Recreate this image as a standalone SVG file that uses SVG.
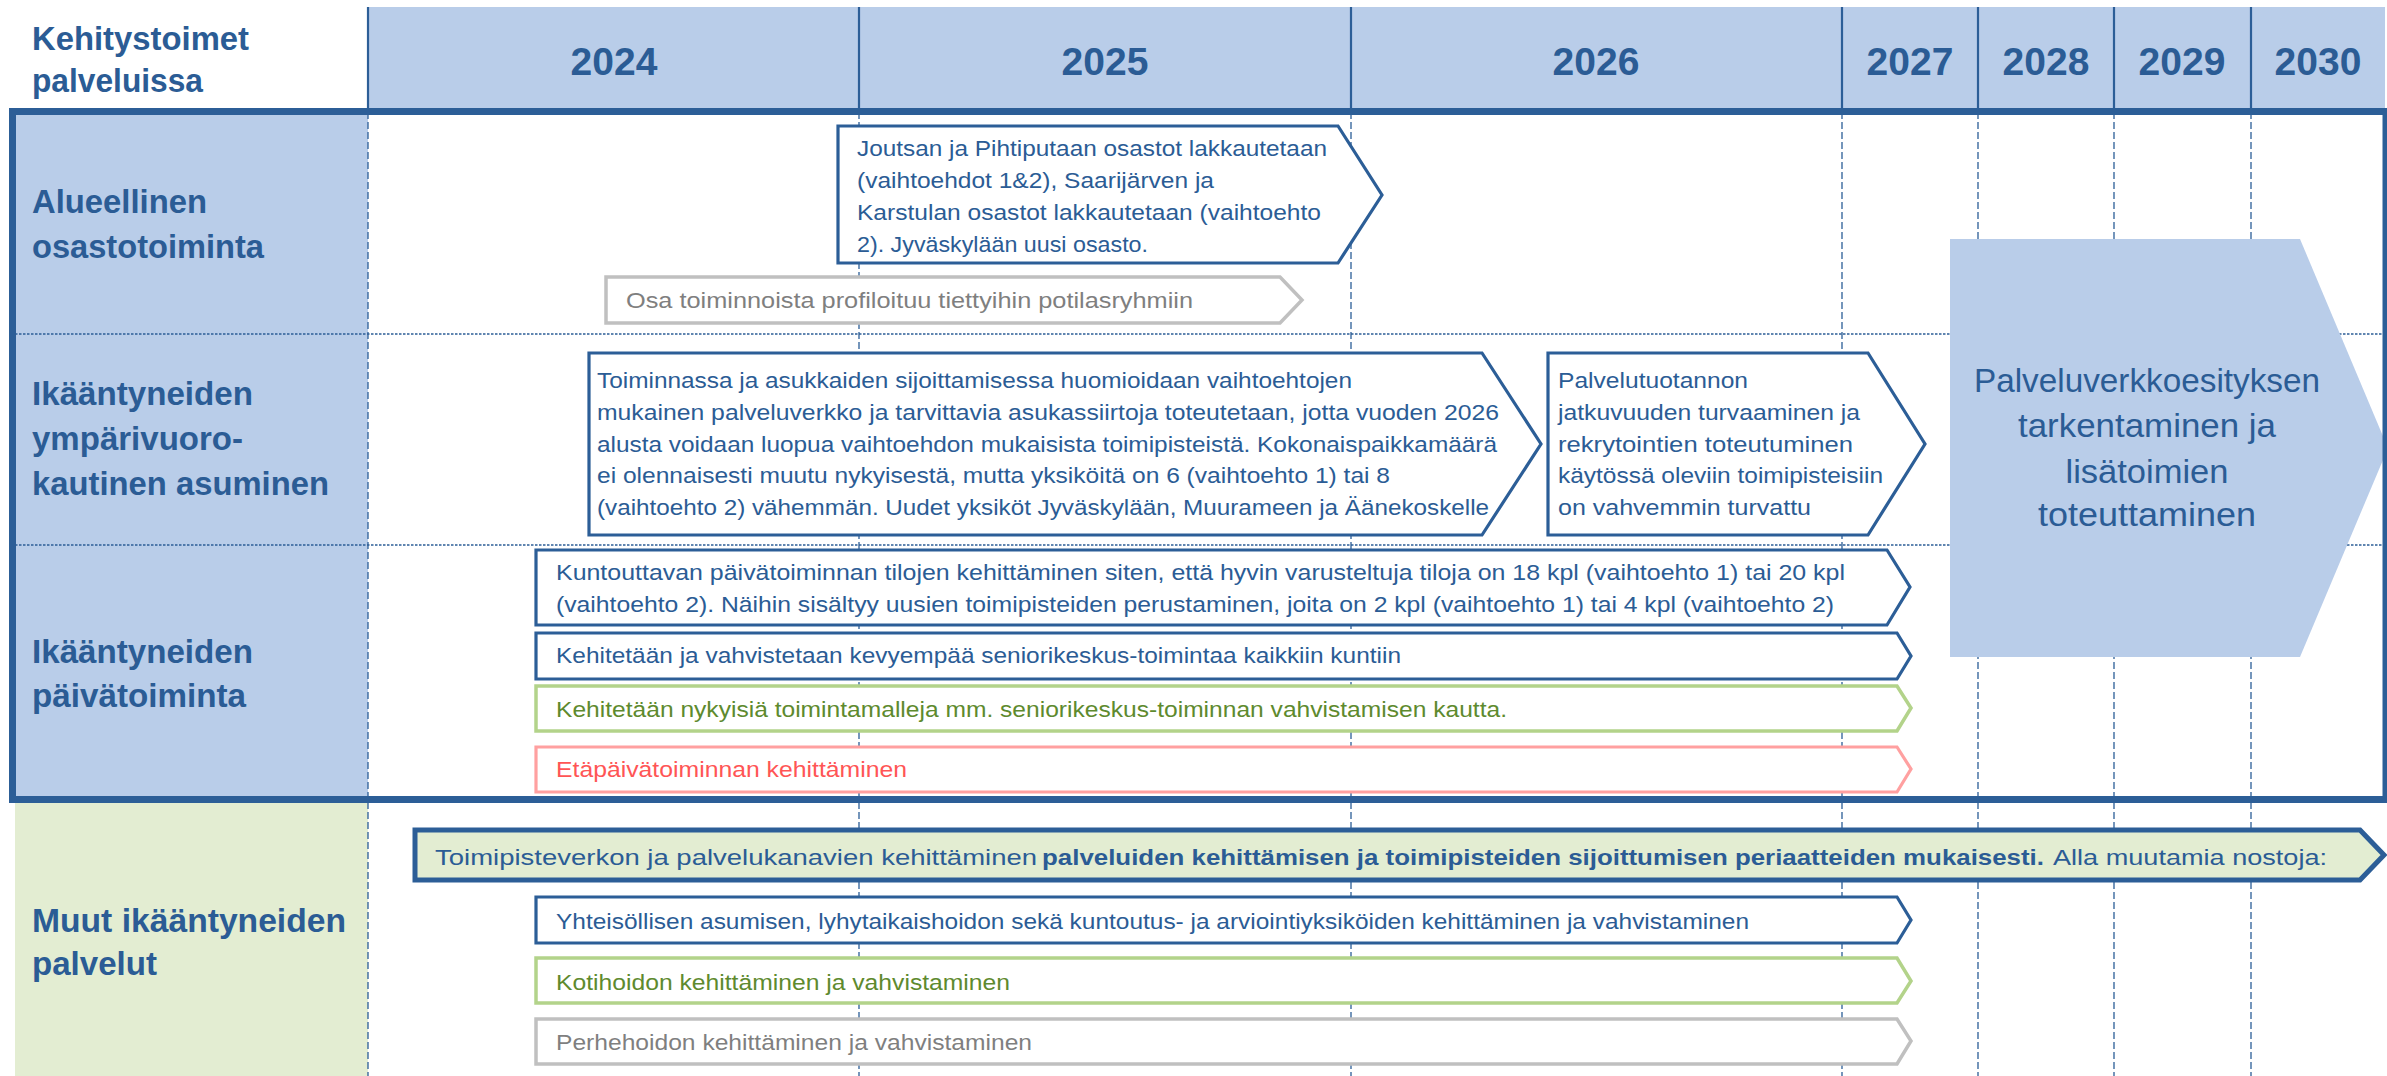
<svg xmlns="http://www.w3.org/2000/svg" width="2387" height="1076" viewBox="0 0 2387 1076">
<style>
text{font-family:"Liberation Sans",Arial,sans-serif}
.hdr{fill:#B9CDE9}
.lab{font-size:32.5px;font-weight:bold;fill:#2B5C95}
.yr{font-size:39px;font-weight:bold;fill:#2B5C95;text-anchor:middle}
.vsolid{stroke:#2C5E97;stroke-width:2.2}
.vdash{stroke:#2C5E97;stroke-width:1.3;stroke-dasharray:7 3}
.hdot{stroke:#2C5E97;stroke-width:1.6;stroke-dasharray:2.5 1.5}
.t{font-size:22.3px}
.blue{fill:#fff;stroke:#2C5E97;stroke-width:3.2}
.green{fill:#fff;stroke:#B3D38A;stroke-width:3.5}
.red{fill:#fff;stroke:#FFA0A0;stroke-width:3.2}
.gray{fill:#fff;stroke:#C0C0C0;stroke-width:3.5}
.tb{fill:#2B5C95}
.tg{fill:#5E8A2E}
.tr{fill:#FF5555}
.tgy{fill:#7F7F7F}
.big{font-size:33.5px;fill:#2B5C95;text-anchor:middle}
</style>

<g id="grid">
  <rect class="hdr" x="368" y="7" width="2017" height="101"/>
  <rect class="hdr" x="15" y="111" width="353" height="689"/>
  <rect fill="#E3EDD2" x="15" y="803" width="353" height="273"/>
  <g class="vsolid">
    <line x1="368" y1="7" x2="368" y2="110"/>
    <line x1="859" y1="7" x2="859" y2="110"/>
    <line x1="1351" y1="7" x2="1351" y2="110"/>
    <line x1="1842" y1="7" x2="1842" y2="110"/>
    <line x1="1978" y1="7" x2="1978" y2="110"/>
    <line x1="2114" y1="7" x2="2114" y2="110"/>
    <line x1="2251" y1="7" x2="2251" y2="110"/>
  </g>
  <g class="vdash">
    <line x1="368" y1="112" x2="368" y2="1076"/>
    <line x1="859" y1="112" x2="859" y2="1076"/>
    <line x1="1351" y1="112" x2="1351" y2="1076"/>
    <line x1="1842" y1="112" x2="1842" y2="1076"/>
    <line x1="1978" y1="112" x2="1978" y2="1076"/>
    <line x1="2114" y1="112" x2="2114" y2="1076"/>
    <line x1="2251" y1="112" x2="2251" y2="1076"/>
  </g>
  <g class="hdot">
    <line x1="15" y1="334" x2="2384" y2="334"/>
    <line x1="15" y1="545" x2="2384" y2="545"/>
  </g>
</g>

<g id="header">
  <text class="lab" x="32" y="50" textLength="217" lengthAdjust="spacingAndGlyphs">Kehitystoimet</text>
  <text class="lab" x="32" y="92" textLength="171" lengthAdjust="spacingAndGlyphs">palveluissa</text>
  <text class="yr" x="614" y="75">2024</text>
  <text class="yr" x="1105" y="75">2025</text>
  <text class="yr" x="1596" y="75">2026</text>
  <text class="yr" x="1910" y="75">2027</text>
  <text class="yr" x="2046" y="75">2028</text>
  <text class="yr" x="2182" y="75">2029</text>
  <text class="yr" x="2318" y="75">2030</text>
</g>

<g id="row-labels">
  <text class="lab" x="32" y="213" textLength="175" lengthAdjust="spacingAndGlyphs">Alueellinen</text>
  <text class="lab" x="32" y="258" textLength="232" lengthAdjust="spacingAndGlyphs">osastotoiminta</text>
  <text class="lab" x="32" y="405" textLength="221" lengthAdjust="spacingAndGlyphs">Ikääntyneiden</text>
  <text class="lab" x="32" y="450" textLength="211" lengthAdjust="spacingAndGlyphs">ympärivuoro-</text>
  <text class="lab" x="32" y="495" textLength="297" lengthAdjust="spacingAndGlyphs">kautinen asuminen</text>
  <text class="lab" x="32" y="663" textLength="221" lengthAdjust="spacingAndGlyphs">Ikääntyneiden</text>
  <text class="lab" x="32" y="707" textLength="214" lengthAdjust="spacingAndGlyphs">päivätoiminta</text>
  <text class="lab" x="32" y="932" textLength="314" lengthAdjust="spacingAndGlyphs">Muut ikääntyneiden</text>
  <text class="lab" x="32" y="975" textLength="125" lengthAdjust="spacingAndGlyphs">palvelut</text>
</g>

<g id="node-osastot">
  <polygon class="blue" points="838,126 1338,126 1382,195 1338,263 838,263"/>
  <text class="t tb" x="857" y="156" textLength="470" lengthAdjust="spacingAndGlyphs">Joutsan ja Pihtiputaan osastot lakkautetaan</text>
  <text class="t tb" x="857" y="188" textLength="357" lengthAdjust="spacingAndGlyphs">(vaihtoehdot 1&amp;2), Saarijärven ja</text>
  <text class="t tb" x="857" y="220" textLength="464" lengthAdjust="spacingAndGlyphs">Karstulan osastot lakkautetaan (vaihtoehto</text>
  <text class="t tb" x="857" y="252" textLength="291" lengthAdjust="spacingAndGlyphs">2). Jyväskylään uusi osasto.</text>
</g>

<g id="node-profilointi">
  <polygon class="gray" points="606,277 1280,277 1302,300 1280,323 606,323"/>
  <text class="t tgy" x="626" y="308" textLength="567" lengthAdjust="spacingAndGlyphs">Osa toiminnoista profiloituu tiettyihin potilasryhmiin</text>
</g>

<g id="node-asuminen">
  <polygon class="blue" points="589,353 1482,353 1541,444 1482,535 589,535"/>
  <text class="t tb" x="597" y="388" textLength="755" lengthAdjust="spacingAndGlyphs">Toiminnassa ja asukkaiden sijoittamisessa huomioidaan vaihtoehtojen</text>
  <text class="t tb" x="597" y="420" textLength="902" lengthAdjust="spacingAndGlyphs">mukainen palveluverkko ja tarvittavia asukassiirtoja toteutetaan, jotta vuoden 2026</text>
  <text class="t tb" x="597" y="452" textLength="900" lengthAdjust="spacingAndGlyphs">alusta voidaan luopua vaihtoehdon mukaisista toimipisteistä. Kokonaispaikkamäärä</text>
  <text class="t tb" x="597" y="483" textLength="793" lengthAdjust="spacingAndGlyphs">ei olennaisesti muutu nykyisestä, mutta yksiköitä on 6 (vaihtoehto 1) tai 8</text>
  <text class="t tb" x="597" y="515" textLength="892" lengthAdjust="spacingAndGlyphs">(vaihtoehto 2) vähemmän. Uudet yksiköt Jyväskylään, Muurameen ja Äänekoskelle</text>
</g>

<g id="node-palvelutuotanto">
  <polygon class="blue" points="1548,353 1868,353 1925,444 1868,535 1548,535"/>
  <text class="t tb" x="1558" y="388" textLength="190" lengthAdjust="spacingAndGlyphs">Palvelutuotannon</text>
  <text class="t tb" x="1558" y="420" textLength="302" lengthAdjust="spacingAndGlyphs">jatkuvuuden turvaaminen ja</text>
  <text class="t tb" x="1558" y="452" textLength="295" lengthAdjust="spacingAndGlyphs">rekrytointien toteutuminen</text>
  <text class="t tb" x="1558" y="483" textLength="325" lengthAdjust="spacingAndGlyphs">käytössä oleviin toimipisteisiin</text>
  <text class="t tb" x="1558" y="515" textLength="253" lengthAdjust="spacingAndGlyphs">on vahvemmin turvattu</text>
</g>

<g id="node-tilat">
  <polygon class="blue" points="536,550 1887,550 1910,587 1887,625 536,625"/>
  <text class="t tb" x="556" y="580" textLength="1289" lengthAdjust="spacingAndGlyphs">Kuntouttavan päivätoiminnan tilojen kehittäminen siten, että hyvin varusteltuja tiloja on 18 kpl (vaihtoehto 1) tai 20 kpl</text>
  <text class="t tb" x="556" y="612" textLength="1278" lengthAdjust="spacingAndGlyphs">(vaihtoehto 2). Näihin sisältyy uusien toimipisteiden perustaminen, joita on 2 kpl (vaihtoehto 1) tai 4 kpl (vaihtoehto 2)</text>
</g>

<g id="node-seniorikeskus">
  <polygon class="blue" points="536,633 1897,633 1911,656 1897,679 536,679"/>
  <text class="t tb" x="556" y="663" textLength="845" lengthAdjust="spacingAndGlyphs">Kehitetään ja vahvistetaan kevyempää seniorikeskus-toimintaa kaikkiin kuntiin</text>
</g>

<g id="node-toimintamallit">
  <polygon class="green" points="536,686 1897,686 1911,708 1897,731 536,731"/>
  <text class="t tg" x="556" y="717" textLength="951" lengthAdjust="spacingAndGlyphs">Kehitetään nykyisiä toimintamalleja mm. seniorikeskus-toiminnan vahvistamisen kautta.</text>
</g>

<g id="node-etapaivatoiminta">
  <polygon class="red" points="536,747 1897,747 1911,769 1897,792 536,792"/>
  <text class="t tr" x="556" y="777" textLength="351" lengthAdjust="spacingAndGlyphs">Etäpäivätoiminnan kehittäminen</text>
</g>

<g id="node-tarkentaminen">
  <polygon fill="#B9CDE9" points="1950,239 2300,239 2388,448 2300,657 1950,657"/>
  <text class="big" x="2147" y="392" textLength="346" lengthAdjust="spacingAndGlyphs">Palveluverkkoesityksen</text>
  <text class="big" x="2147" y="437" textLength="258" lengthAdjust="spacingAndGlyphs">tarkentaminen ja</text>
  <text class="big" x="2147" y="483" textLength="163" lengthAdjust="spacingAndGlyphs">lisätoimien</text>
  <text class="big" x="2147" y="526" textLength="218" lengthAdjust="spacingAndGlyphs">toteuttaminen</text>
</g>

<g id="frame">
  <rect x="12.5" y="111.5" width="2373.5" height="688" fill="none" stroke="#2C5E97" stroke-width="7"/>
</g>

<g id="node-toimipisteverkko">
  <polygon fill="#E3EDD2" stroke="#2C5E97" stroke-width="5" points="415,830 2360,830 2384,855 2360,880 415,880"/>
  <text class="t tb" x="435" y="865" textLength="602" lengthAdjust="spacingAndGlyphs">Toimipisteverkon ja palvelukanavien kehittäminen</text>
  <text class="t tb" x="1042" y="865" font-weight="bold" textLength="1002" lengthAdjust="spacingAndGlyphs">palveluiden kehittämisen ja toimipisteiden sijoittumisen periaatteiden mukaisesti.</text>
  <text class="t tb" x="2053" y="865" textLength="274" lengthAdjust="spacingAndGlyphs">Alla muutamia nostoja:</text>
</g>

<g id="node-yhteisollinen">
  <polygon class="blue" points="536,897 1897,897 1911,920 1897,943 536,943"/>
  <text class="t tb" x="556" y="929" textLength="1193" lengthAdjust="spacingAndGlyphs">Yhteisöllisen asumisen, lyhytaikaishoidon sekä kuntoutus- ja arviointiyksiköiden kehittäminen ja vahvistaminen</text>
</g>

<g id="node-kotihoito">
  <polygon class="green" points="536,958 1897,958 1911,981 1897,1003 536,1003"/>
  <text class="t tg" x="556" y="990" textLength="454" lengthAdjust="spacingAndGlyphs">Kotihoidon kehittäminen ja vahvistaminen</text>
</g>

<g id="node-perhehoito">
  <polygon class="gray" points="536,1019 1897,1019 1911,1041 1897,1064 536,1064"/>
  <text class="t tgy" x="556" y="1050" textLength="476" lengthAdjust="spacingAndGlyphs">Perhehoidon kehittäminen ja vahvistaminen</text>
</g>

<g id="connectors"/>
</svg>
